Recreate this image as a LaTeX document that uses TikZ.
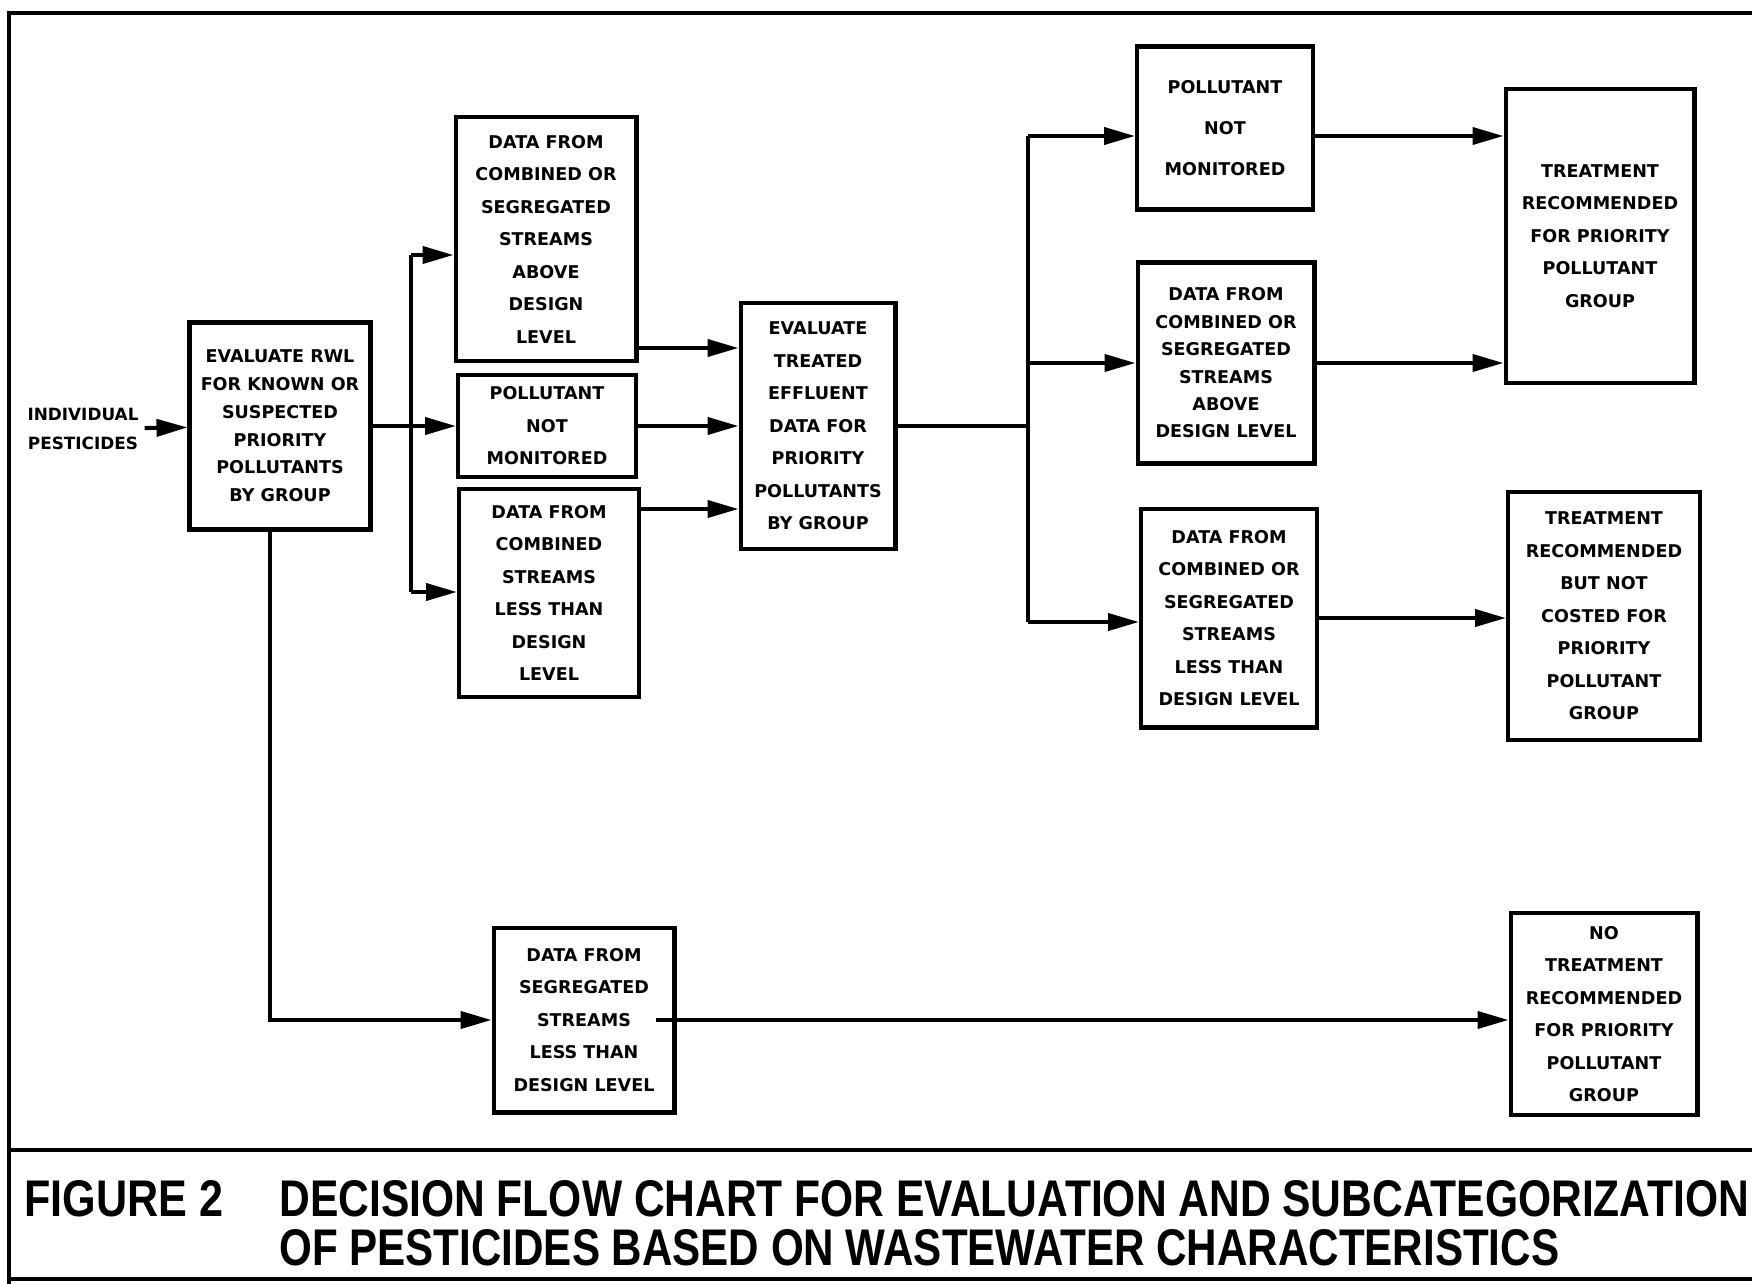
\documentclass[tikz,border=0pt]{standalone}
\usepackage{graphicx}
\usepackage{fontspec}
\setmainfont{DejaVu Sans}
\newfontfamily\capfont{Liberation Sans}
\usetikzlibrary{arrows.meta}
\tikzset{
  stepbox/.style={draw, line width=2.3pt, align=center, inner sep=0pt,
    font=\bfseries\fontsize{10}{18.5}\selectfont},
  flow/.style={line width=2.3pt},
  arr/.style={flow, -{Triangle[length=0.62cm, width=0.34cm]}},
}
\newcommand{\capline}[2]{% #1 = Breite, #2 = Text
  \resizebox{#1}{0.72cm}{\capfont\bfseries #2}}

\begin{document}
\begin{tikzpicture}[x=0.02cm, y=-0.02cm]
  \useasboundingbox (0,0) rectangle (1752,1284);
  % Rahmen
  \draw[line width=1.8pt] (1752,13) -- (9,13) -- (9,1284);
  \draw[line width=2.4pt] (9,1150) -- (1752,1150);
  \draw[line width=1.8pt] (9,1279) -- (1752,1279);

  \node[align=center, font=\bfseries\fontsize{9.6}{17}\selectfont] (ind) at (83,429) {INDIVIDUAL\\PESTICIDES};
  \node[stepbox, minimum width=3.62cm, minimum height=4.14cm, font=\bfseries\fontsize{10}{15.8}\selectfont]
        (rwl) at (280,426) {EVALUATE RWL\\FOR KNOWN OR\\SUSPECTED\\PRIORITY\\POLLUTANTS\\BY GROUP};
  \node[stepbox, minimum width=3.62cm, minimum height=4.88cm]
        (d1) at (546,239) {DATA FROM\\COMBINED OR\\SEGREGATED\\STREAMS\\ABOVE\\DESIGN\\LEVEL};
  \node[stepbox, minimum width=3.56cm, minimum height=2.04cm]
        (pnm1) at (547,426) {POLLUTANT\\NOT\\MONITORED};
  \node[stepbox, minimum width=3.60cm, minimum height=4.16cm]
        (d2) at (549,593) {DATA FROM\\COMBINED\\STREAMS\\LESS THAN\\DESIGN\\LEVEL};
  \node[stepbox, minimum width=3.10cm, minimum height=4.94cm]
        (ev) at (818,426) {EVALUATE\\TREATED\\EFFLUENT\\DATA FOR\\PRIORITY\\POLLUTANTS\\BY GROUP};
  \node[stepbox, minimum width=3.52cm, minimum height=3.26cm, font=\bfseries\fontsize{10}{23.4}\selectfont]
        (pnm2) at (1225,128) {POLLUTANT\\NOT\\MONITORED};
  \node[stepbox, minimum width=3.54cm, minimum height=4.02cm, font=\bfseries\fontsize{10}{15.6}\selectfont]
        (d3) at (1226,363) {DATA FROM\\COMBINED OR\\SEGREGATED\\STREAMS\\ABOVE\\DESIGN LEVEL};
  \node[stepbox, minimum width=3.52cm, minimum height=4.38cm]
        (d4) at (1229,618) {DATA FROM\\COMBINED OR\\SEGREGATED\\STREAMS\\LESS THAN\\DESIGN LEVEL};
  \node[stepbox, minimum width=3.78cm, minimum height=5.88cm]
        (t1) at (1600,236) {TREATMENT\\RECOMMENDED\\FOR PRIORITY\\POLLUTANT\\GROUP};
  \node[stepbox, minimum width=3.84cm, minimum height=4.96cm]
        (t2) at (1604,616) {TREATMENT\\RECOMMENDED\\BUT NOT\\COSTED FOR\\PRIORITY\\POLLUTANT\\GROUP};
  \node[stepbox, minimum width=3.62cm, minimum height=3.70cm]
        (d5) at (584,1020) {DATA FROM\\SEGREGATED\\STREAMS\\LESS THAN\\DESIGN LEVEL};
  \node[stepbox, minimum width=3.74cm, minimum height=4.04cm]
        (t3) at (1604,1014) {NO\\TREATMENT\\RECOMMENDED\\FOR PRIORITY\\POLLUTANT\\GROUP};

  % Verzweigungen
  \coordinate (s1t) at (411,255);
  \coordinate (s1b) at (411,592);
  \coordinate (s2t) at (1028,136);
  \coordinate (s2b) at (1028,622);

  \draw[arr] (ind) -- (rwl);
  \draw[flow] (s1t) -- (s1b);
  \draw[flow] (rwl.east) -- (rwl.east -| s1t);
  \draw[arr] (s1t) -- (s1t -| d1.west);
  \draw[arr] (pnm1.west -| s1t) -- (pnm1.west);
  \draw[arr] (s1b) -- (s1b -| d2.west);

  \draw[arr] ([yshift=0.3cm]d1.south east) coordinate (a1) -- (a1 -| ev.west);
  \draw[arr] (pnm1.east) -- (pnm1.east -| ev.west);
  \draw[arr] ([yshift=-0.44cm]d2.north east) coordinate (a2) -- (a2 -| ev.west);

  \draw[flow] (s2t) -- (s2b);
  \draw[flow] (ev.east) -- (ev.east -| s2t);
  \draw[arr] (s2t) -- (s2t -| pnm2.west);
  \draw[arr] (d3.west -| s2t) -- (d3.west);
  \draw[arr] (s2b) -- (s2b -| d4.west);

  \draw[arr] ([yshift=-0.16cm]pnm2.east) coordinate (a3) -- (a3 -| t1.west);
  \draw[arr] (d3.east) -- (d3.east -| t1.west);
  \draw[arr] (d4.east) -- (d4.east -| t2.west);

  \draw[arr] ([xshift=-0.2cm]rwl.south) coordinate (a4) -- (a4 |- d5.west) -- (d5.west);
  \draw[arr] ([xshift=-0.42cm]d5.east) -- (d5.east -| t3.west);

  % Bildunterschrift
  \node[anchor=base west, inner sep=0pt] (fig) at (24,1216) {\capline{3.98cm}{FIGURE 2}};
  \node[anchor=base west, inner sep=0pt] (tl1) at (279,1216)
        {\capline{29.4cm}{DECISION FLOW CHART FOR EVALUATION AND SUBCATEGORIZATION}};
  \node[anchor=base west, inner sep=0pt] (tl2) at (279,1265)
        {\capline{25.6cm}{OF PESTICIDES BASED ON WASTEWATER CHARACTERISTICS}};
\end{tikzpicture}
\end{document}
